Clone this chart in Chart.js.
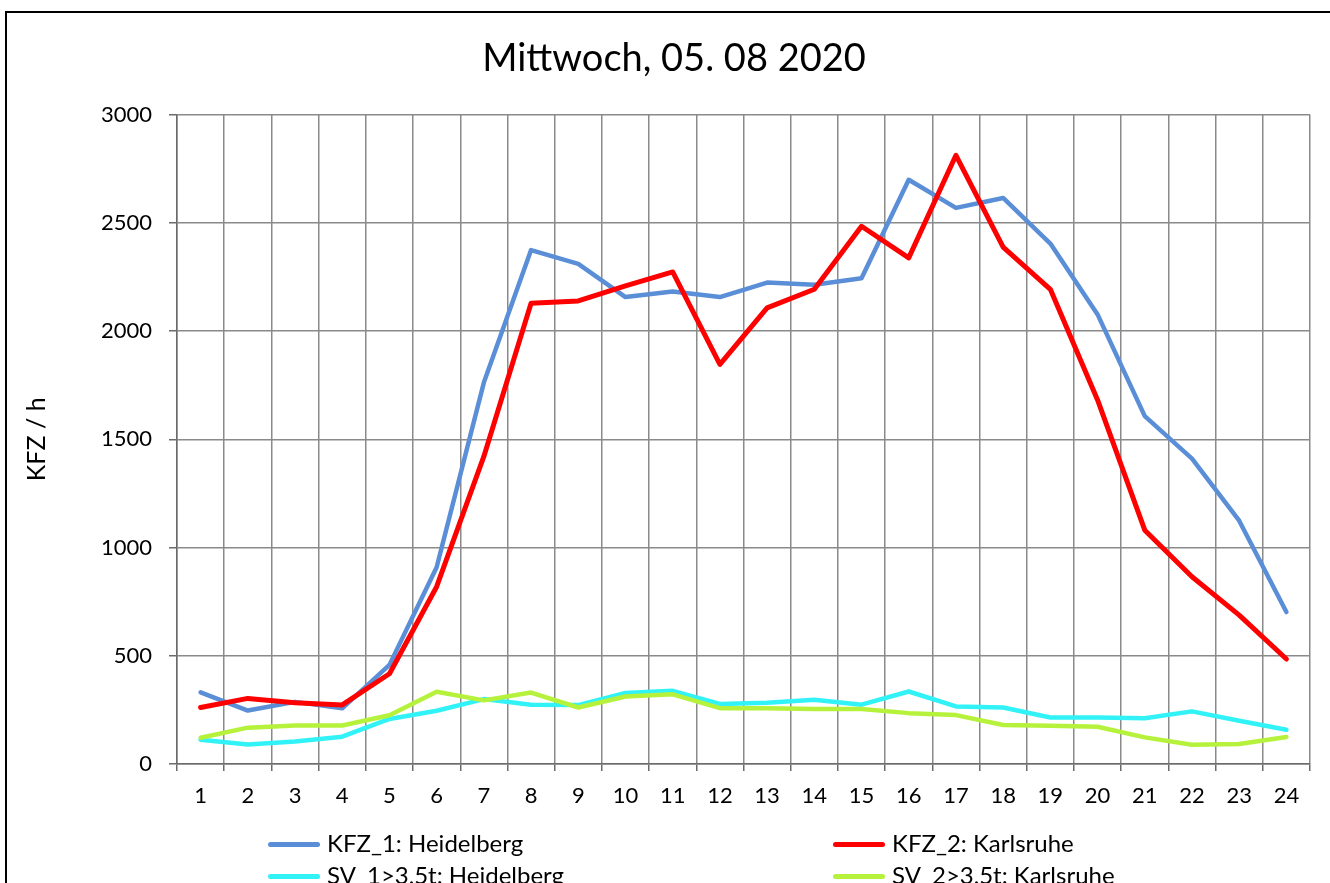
<!DOCTYPE html>
<html lang="de">
<head>
    <meta charset="UTF-8">
    <title>Mittwoch, 05. 08 2020</title>
    <script src="https://cdn.jsdelivr.net/npm/chart.js"></script>
    <style>
        html, body { margin: 0; padding: 0; background: #fff; overflow: hidden; }
        .frame {
            position: absolute; left: 5px; top: 11px;
            width: 1400px; height: 1000px;
            border: 2px solid #000; pointer-events: none;
        }
        .chart-box { position: absolute; left: 0; top: 0; width: 1330px; height: 883px; }
        .legend-item {
            position: absolute; font-family: Lato, sans-serif; font-size: 24px;
            color: #000; white-space: nowrap; line-height: 28px;
        }
        .legend-item .swatch {
            display: inline-block; width: 52px; height: 5px; border-radius: 3px;
            vertical-align: middle; margin-right: 7px; position: relative; top: -1px;
        }
    </style>
</head>
<body>

    <div class="chart-box">
        <canvas id="trafficChart" width="1330" height="883"></canvas>
    </div>
    <div class="frame"></div>

    <!-- Legend (two columns like the original) -->
    <div id="legend"></div>

    <script>
        // Chart data
        const hours = ['1','2','3','4','5','6','7','8','9','10','11','12',
                       '13','14','15','16','17','18','19','20','21','22','23','24'];

        const kfz1Heidelberg = [331, 247, 287, 257, 458, 909, 1762, 2374, 2310, 2157, 2183, 2157,
                                2224, 2214, 2244, 2699, 2569, 2615, 2404, 2077, 1607, 1411, 1124, 702];
        const kfz2Karlsruhe  = [261, 303, 283, 273, 417, 819, 1421, 2129, 2139, 2209, 2273, 1846,
                                2107, 2193, 2484, 2338, 2812, 2388, 2193, 1682, 1080, 865, 688, 485];
        const sv1Heidelberg  = [112, 90, 104, 126, 208, 246, 300, 274, 272, 328, 338, 277,
                                283, 297, 274, 335, 266, 261, 215, 215, 211, 243, 200, 158];
        const sv2Karlsruhe   = [121, 168, 178, 178, 225, 334, 294, 330, 261, 312, 322, 258,
                                258, 254, 254, 235, 226, 180, 177, 172, 123, 89, 92, 125];

        const yTicks = [0, 500, 1000, 1500, 2000, 2500, 3000];

        const seriesNames  = ['KFZ_1: Heidelberg', 'KFZ_2: Karlsruhe', 'SV_1>3,5t: Heidelberg', 'SV_2>3,5t: Karlsruhe'];
        const seriesColors = ['#5a8fd8', '#ff0000', '#31f3f7', '#b6f23b'];

        const gridColor = '#8a8a8a';
        const axisColor = '#6b6b6b';
        const fontFamily = 'Lato, sans-serif';

        function makeSet(i, data, width) {
            return {
                label: seriesNames[i],
                data: data,
                borderColor: seriesColors[i],
                backgroundColor: seriesColors[i],
                borderWidth: width,
                pointRadius: 0,
                tension: 0,
                fill: false,
                borderCapStyle: 'round',
                borderJoinStyle: 'round',
                order: 3 - i   // later series on top, like Excel
            };
        }

        new Chart(document.getElementById('trafficChart').getContext('2d'), {
            type: 'line',
            data: {
                labels: hours,
                datasets: [
                    makeSet(0, kfz1Heidelberg, 4.5),
                    makeSet(1, kfz2Karlsruhe, 5),
                    makeSet(2, sv1Heidelberg, 4.5),
                    makeSet(3, sv2Karlsruhe, 4.5)
                ]
            },
            options: {
                responsive: false,
                animation: false,
                // left padding shifts the centred title to the right, as in the original
                layout: { padding: { left: 38, top: 0, right: 20, bottom: 59 } },
                plugins: {
                    legend: { display: false },
                    tooltip: { enabled: false },
                    title: {
                        display: true,
                        text: 'Mittwoch, 05. 08 2020',
                        color: '#000',
                        font: { family: fontFamily, size: 38, weight: 'normal' },
                        padding: { top: 36, bottom: 33 }
                    }
                },
                scales: {
                    x: {
                        offset: true,
                        grid: { offset: true, color: gridColor, lineWidth: 1.5, tickLength: 7, tickColor: axisColor },
                        border: { color: axisColor, width: 1.5 },
                        ticks: { color: '#000', font: { family: fontFamily, size: 22 }, padding: 12, maxRotation: 0, autoSkip: false },
                        afterFit: s => { s.height = 60; }
                    },
                    y: {
                        min: 0,
                        max: 3000,
                        afterBuildTicks: s => { s.ticks = yTicks.map(v => ({ value: v })); },
                        grid: { color: gridColor, lineWidth: 1.5, tickLength: 8, tickColor: axisColor },
                        border: { color: axisColor, width: 1.5 },
                        ticks: { color: '#000', font: { family: fontFamily, size: 22 }, padding: 17,
                                 callback: v => String(v) },
                        title: {
                            display: true,
                            text: 'KFZ / h',
                            color: '#000',
                            font: { family: fontFamily, size: 25, weight: 'normal' },
                            padding: { top: -16, bottom: 0 }
                        },
                        afterFit: s => { s.width = 139; }
                    }
                }
            }
        });

        // HTML legend, two columns
        const legendPos = [
            { left: 268, top: 829 }, { left: 833, top: 829 },
            { left: 268, top: 861 }, { left: 833, top: 861 }
        ];
        const legendEl = document.getElementById('legend');
        seriesNames.forEach((name, i) => {
            const item = document.createElement('div');
            item.className = 'legend-item';
            item.style.left = legendPos[i].left + 'px';
            item.style.top = legendPos[i].top + 'px';
            item.innerHTML = `<span class="swatch" style="background:${seriesColors[i]}"></span>${name}`;
            legendEl.appendChild(item);
        });
    </script>

</body>
</html>
